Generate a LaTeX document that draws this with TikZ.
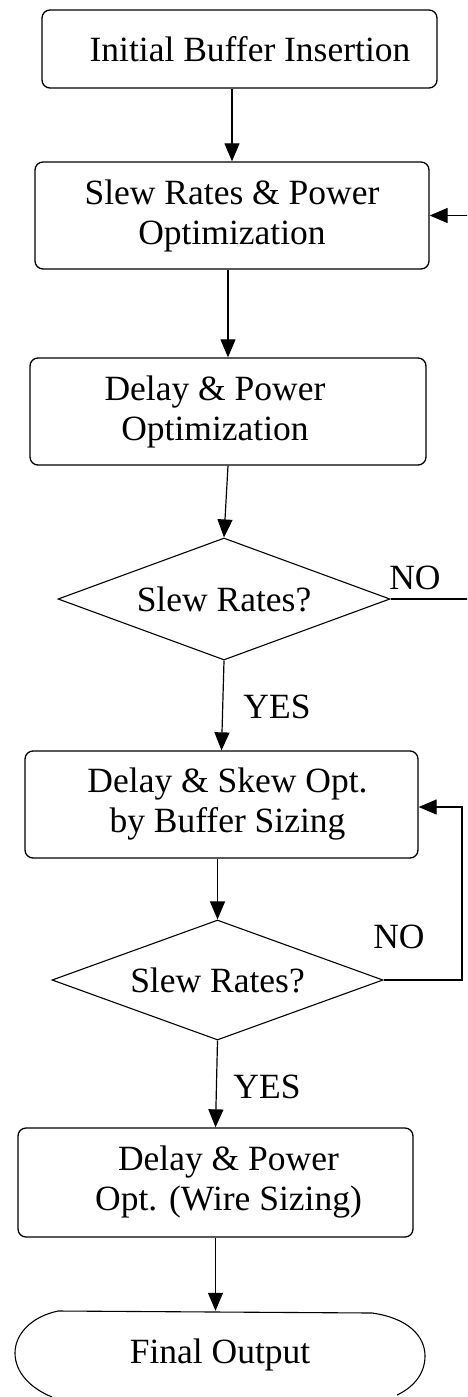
\documentclass[tikz,border=0pt]{standalone}
\usepackage{fontspec}
\setmainfont{Liberation Serif}
\usetikzlibrary{shapes.geometric,arrows.meta,calc}

\begin{document}
\begin{tikzpicture}[x=1pt,y=-1pt,
  every node/.style={font=\fontsize{35.5}{40}\selectfont},
  proc/.style={draw, line width=1.3pt, rounded corners=8pt, align=center, inner sep=0pt},
  decision/.style={draw, diamond, aspect=2.7, inner sep=0pt, line width=1.1pt},
  flow/.style={line width=1.2pt, -{Triangle[length=18pt,width=15pt]}},
  lbl/.style={inner sep=0pt}
]
\path[use as bounding box, fill=white] (0,0) rectangle (467,1397);
\clip (0,0) rectangle (467,1397);

% process boxes
\node[proc, minimum width=395pt, minimum height=78pt] (b1) at (239.5,49)
  {\hspace*{21pt}Initial Buffer Insertion};
\node[proc, minimum width=394pt, minimum height=107pt] (b2) at (232,215.5)
  {Slew Rates \& Power\\Optimization};
\node[proc, minimum width=396pt, minimum height=107pt] (b3) at (228,411.5)
  {Delay \& Power\rule{26pt}{0pt}\\Optimization\rule{26pt}{0pt}};
\node[decision, minimum width=332pt, minimum height=122pt] (d1) at (224,599)
  {Slew Rates?};
\node[proc, minimum width=393pt, minimum height=107pt] (b4) at (221.5,804.5)
  {\hspace*{12pt}Delay \& Skew Opt.\\\hspace*{12pt}by Buffer Sizing};
\node[decision, minimum width=331pt, minimum height=120pt] (d2) at (217.5,980)
  {Slew Rates?};
\node[proc, minimum width=395pt, minimum height=109pt] (b5) at (215.5,1182.5)
  {\hspace*{26pt}Delay \& Power\\\hspace*{26pt}Opt. (Wire Sizing)};

% terminal
\node[inner sep=0pt, minimum width=410pt, minimum height=88pt] (t) at (220,1355)
  {Final Output};
\draw[line width=1.1pt]
  (52,1397) .. controls (30,1388) and (15,1372) .. (15,1353)
  .. controls (15,1335) and (30,1317) .. (58,1311)
  -- (372,1313)
  .. controls (408,1318) and (425,1336) .. (425,1356)
  .. controls (425,1375) and (412,1388) .. (397,1395);

% branch labels
\node[lbl] (no1) at (415,578) {NO};
\node[lbl] (yes1) at (277,707) {YES};
\node[lbl] (no2) at (399,937) {NO};
\node[lbl] (yes2) at (267,1087) {YES};

% loop-back points
\coordinate (r1) at (469,0);
\coordinate (r2) at (462,0);

% connectors
\draw[flow] (b2.north |- b1.south) -- (b2.north);
\draw[flow] (b3.north |- b2.south) -- (b3.north);
\draw[flow] (b3.south) -- (d1.north);
\draw[flow] (d1.south) -- (b4.north);
\draw[flow] (d2.north |- b4.south) -- (d2.north);
\draw[flow] (d2.south) -- (b5.north);
\draw[flow] (b5.south) -- (b5.south |- t.north);
\draw[flow] (d1.east) -- (d1.east -| r1) |- (b2.east);
\draw[flow] (d2.east) -- (d2.east -| r2) |- ($(b4.east)+(0,2.5)$);
\end{tikzpicture}
\end{document}
